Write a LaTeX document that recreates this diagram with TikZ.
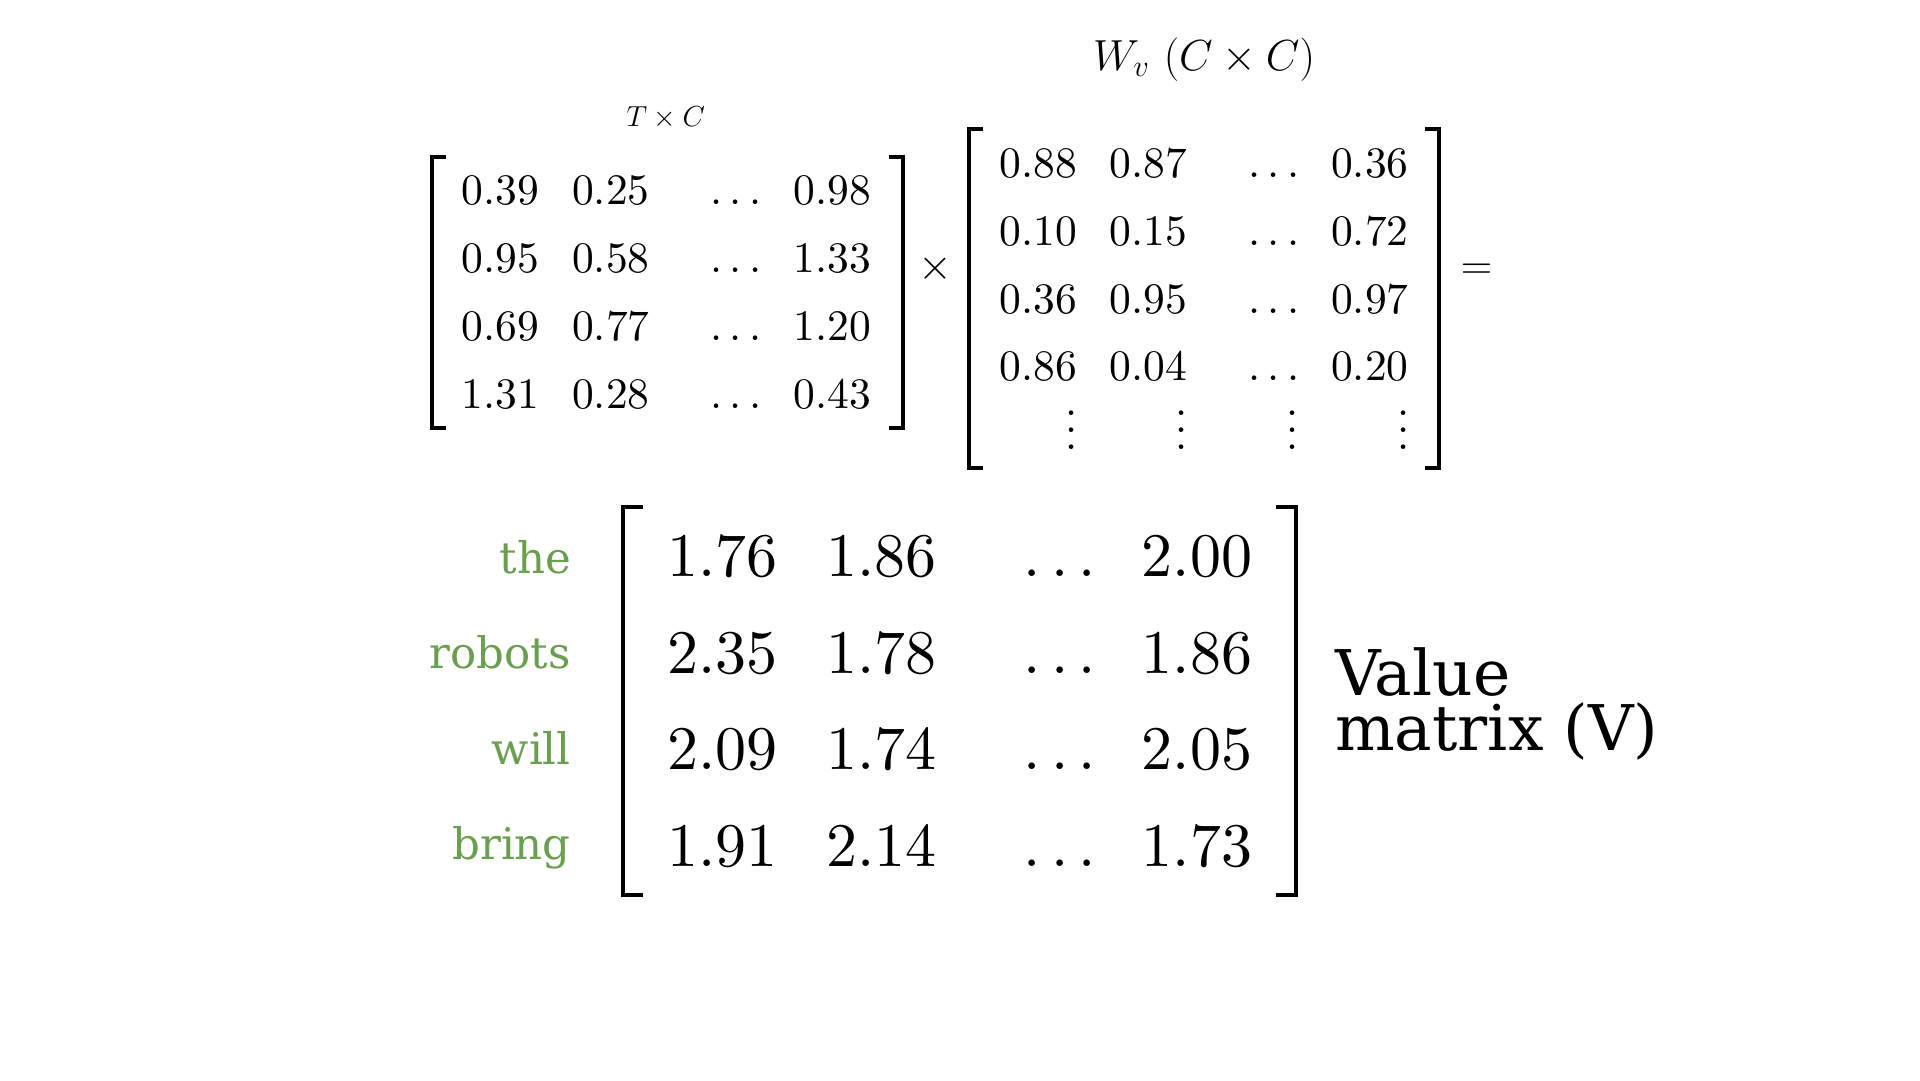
\RequirePackage{fix-cm}
\documentclass[tikz,border=0pt]{standalone}
\usepackage{fontspec}
\newfontfamily\dv{DejaVu Serif}
\newfontfamily\numfont{lmroman10-regular}[Extension=.otf]
\definecolor{lblgreen}{RGB}{106,159,80}
\newcommand\mydots{.\kern.167em.\kern.167em.}
\newcommand\myvd{\vbox{\baselineskip=16.7pt\lineskiplimit=-100pt\hbox{.}\hbox{.}\hbox{.}}}
\tikzset{
  sm/.style={font=\numfont\fontsize{43.5}{50}\selectfont, inner sep=0pt, outer sep=0pt},
  bg/.style={font=\numfont\fontsize{62}{70}\selectfont, inner sep=0pt, outer sep=0pt},
  ent/.style={anchor=base east},
  dts/.style={anchor=base},
  vd/.style={sm, anchor=center},
  lbl/.style={font=\dv\fontsize{43.5}{50}\selectfont, text=lblgreen, inner sep=0pt, anchor=base east},
  ttl/.style={font=\dv\fontsize{63}{70}\selectfont, inner sep=0pt, anchor=base west},
  brk/.style={line width=4pt, line join=miter, line cap=rect},
}
\begin{document}
\begin{tikzpicture}[x=1pt,y=-1pt]
\useasboundingbox[fill=white] (0,0) rectangle (1920,1080);
% titles
\node[sm, anchor=base] (wv) at (1204,70) {$W_v\ (C\times C)$};
\node[inner sep=0pt, anchor=base, font=\fontsize{29}{34}\selectfont] (tc) at (665.8,126.7) {$T\times C$};
% left matrix
\foreach \r/\y/\a/\b/\d in {1/204.5/0.39/0.25/0.98, 2/272.3/0.95/0.58/1.33, 3/340.1/0.69/0.77/1.20, 4/408/1.31/0.28/0.43}{
  \node[sm, ent] (x\r a) at (539,\y) {\a};
  \node[sm, ent] (x\r b) at (649.5,\y) {\b};
  \node[sm, dts] (x\r c) at (736,\y) {\mydots};
  \node[sm, ent] (x\r d) at (871,\y) {\d};
}
\draw[brk] (444,157) -- (432,157) -- (432,428) -- (444,428);
\draw[brk] (890.7,157) -- (902.7,157) -- (902.7,428) -- (890.7,428);
\node[sm, anchor=base] (times) at (935.3,279.5) {$\times$};
% right matrix
\foreach \r/\y/\a/\b/\d in {1/177/0.88/0.87/0.36, 2/245/0.10/0.15/0.72, 3/313/0.36/0.95/0.97, 4/380/0.86/0.04/0.20}{
  \node[sm, ent] (w\r a) at (1077,\y) {\a};
  \node[sm, ent] (w\r b) at (1187,\y) {\b};
  \node[sm, dts] (w\r c) at (1274,\y) {\mydots};
  \node[sm, ent] (w\r d) at (1408.5,\y) {\d};
}
\node[vd] (w5a) at (1071.7,430) {\myvd};
\node[vd] (w5b) at (1181.7,430) {\myvd};
\node[vd] (w5c) at (1292.3,430) {\myvd};
\node[vd] (w5d) at (1403.3,430) {\myvd};
\draw[brk] (980.5,128.7) -- (968.5,128.7) -- (968.5,468) -- (980.5,468);
\draw[brk] (1427.3,128.7) -- (1439.3,128.7) -- (1439.3,468) -- (1427.3,468);
\node[sm, anchor=base] (eq) at (1476.5,279.5) {$=$};
% result matrix
\foreach \r/\y/\a/\b/\d in {1/576/1.76/1.86/2.00, 2/673/2.35/1.78/1.86, 3/769.5/2.09/1.74/2.05, 4/866/1.91/2.14/1.73}{
  \node[bg, ent] (v\r a) at (777.5,\y) {\a};
  \node[bg, ent] (v\r b) at (936.5,\y) {\b};
  \node[bg, dts] (v\r c) at (1060,\y) {\mydots};
  \node[bg, ent] (v\r d) at (1252,\y) {\d};
}
\draw[brk] (641.3,507) -- (623.3,507) -- (623.3,894.6) -- (641.3,894.6);
\draw[brk] (1277.5,507) -- (1295.5,507) -- (1295.5,894.6) -- (1277.5,894.6);
% labels
\node[lbl] (l1) at (571,573.3) {the};
\node[lbl] (l2) at (571,668.8) {robots};
\node[lbl] (l3) at (571,764.3) {will};
\node[lbl] (l4) at (571,859.8) {bring};
\node[ttl] (val1) at (1335,695) {Value};
\node[ttl] (val2) at (1335,750) {matrix (V)};
\end{tikzpicture}
\end{document}
